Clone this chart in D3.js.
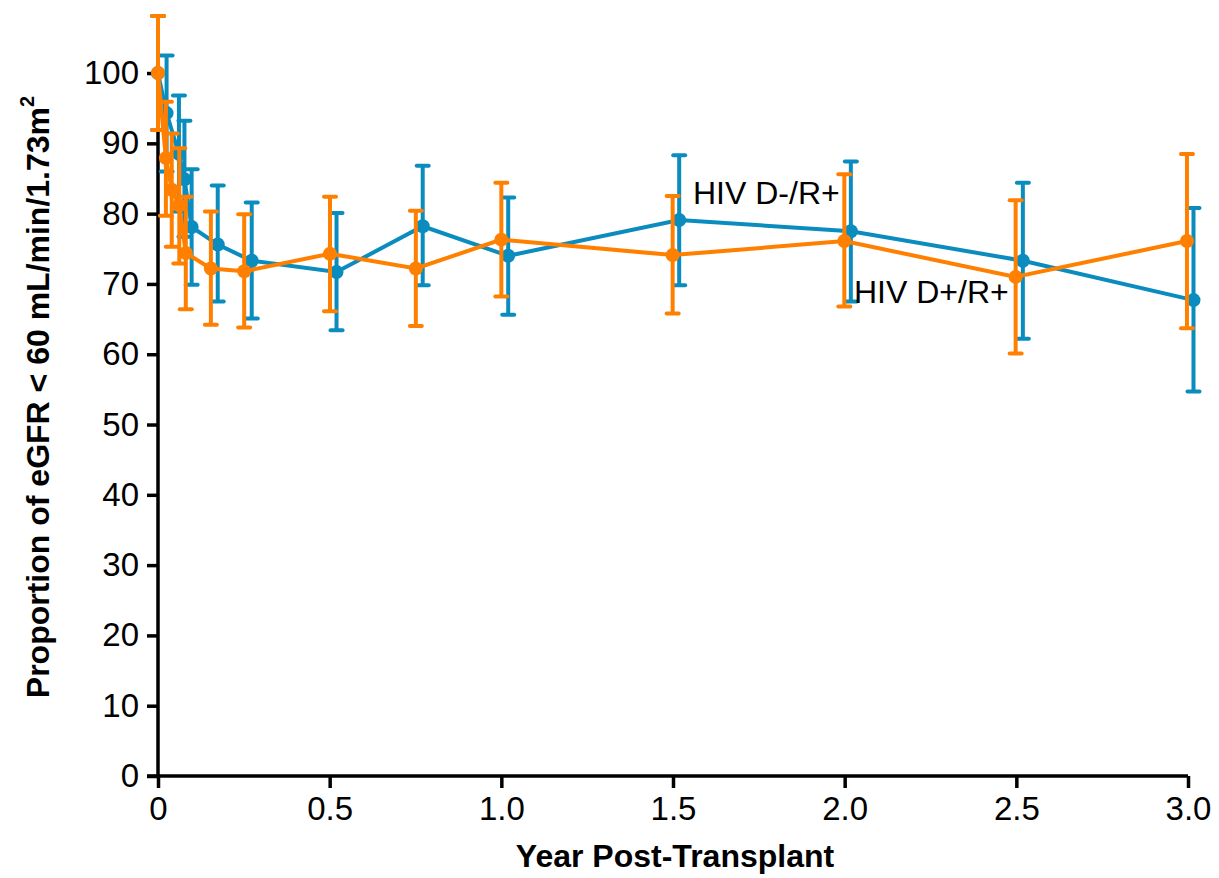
<!DOCTYPE html>
<html>
<head>
<meta charset="utf-8">
<script src="https://cdn.jsdelivr.net/npm/d3@7"></script>
<style>
  body { margin: 0; background: #fff; }
  svg text { font-family: Arial, "Liberation Sans", sans-serif; fill: #000; }
</style>
</head>
<body>
<div id="chart"></div>
<script>
// Data

var yTicks = [0, 10, 20, 30, 40, 50, 60, 70, 80, 90, 100];
var xTicks = [0, 0.5, 1.0, 1.5, 2.0, 2.5, 3.0];
var xTickLabels = ["0", "0.5", "1.0", "1.5", "2.0", "2.5", "3.0"];

// HIV D-/R+ (blue)
var negYears = [0, 0.025, 0.061, 0.077, 0.098, 0.174, 0.273, 0.52, 0.771, 1.02, 1.518, 2.018, 2.519, 3.016];
var negValue = [100, 94.3, 88.5, 84.9, 78.1, 75.6, 73.3, 71.7, 78.2, 74.0, 79.1, 77.5, 73.3, 67.7];
var negUpper = [108.1, 102.5, 96.8, 93.2, 86.3, 84.0, 81.6, 80.1, 86.8, 82.3, 88.3, 87.4, 84.4, 80.8];
var negLower = [91.9, 86.0, 80.3, 76.7, 69.9, 67.5, 65.1, 63.4, 69.8, 65.6, 69.8, 67.5, 62.2, 54.7];

// HIV D+/R+ (orange)
var posYears = [0, 0.023, 0.04, 0.062, 0.081, 0.154, 0.251, 0.501, 0.751, 1.0, 1.499, 1.999, 2.498, 2.997];
var posValue = [100, 87.9, 83.4, 81.2, 74.4, 72.2, 71.8, 74.3, 72.2, 76.3, 74.1, 76.1, 71.0, 76.1];
var posUpper = [108.1, 95.9, 91.4, 89.3, 82.4, 80.3, 79.9, 82.4, 80.4, 84.4, 82.5, 85.6, 81.9, 88.5];
var posLower = [91.9, 79.7, 75.3, 72.9, 66.4, 64.2, 63.8, 66.1, 64.0, 68.2, 65.8, 66.8, 60.1, 63.7];

// Setup

var width = 1219;
var height = 878;
var margin = {top: 14, right: 31, bottom: 102, left: 158};

var svg = d3.select("#chart").append("svg")
    .attr("width", width)
    .attr("height", height);

var x = d3.scaleLinear()
    .domain([0, 3])
    .range([margin.left, width - margin.right]);

var y = d3.scaleLinear()
    .domain([0, 108.4])
    .range([height - margin.bottom, margin.top]);

// Axes

var xAxis = svg.append("g")
    .attr("transform", "translate(0," + y(0) + ")")
    .call(d3.axisBottom(x)
        .tickValues(xTicks)
        .tickFormat(function(d, i) { return xTickLabels[i]; })
        .tickSize(12)
        .tickSizeOuter(0)
        .tickPadding(9));

var yAxis = svg.append("g")
    .attr("transform", "translate(" + x(0) + ",0)")
    .call(d3.axisLeft(y)
        .tickValues(yTicks)
        .tickSize(11)
        .tickSizeOuter(0)
        .tickPadding(8));

[xAxis, yAxis].forEach(function(a) {
    a.select(".domain").attr("stroke", "#000").attr("stroke-width", 3.5);
    a.selectAll(".tick line").attr("stroke", "#000").attr("stroke-width", 3.5);
    a.selectAll(".tick text").style("font-size", "33px").attr("fill", "#000");
});

// extend the y axis line up to the top of the plot
yAxis.select(".domain").attr("d", "M0," + margin.top + "V" + y(0));
xAxis.select(".domain").attr("d", "M" + (x(0) - 11) + ",0H" + x(3));

// Series

function drawSeries(years, values, upper, lower, color) {
    var g = svg.append("g");
    var pts = years.map(function(d, i) {
        return {x: d, v: values[i], hi: upper[i], lo: lower[i]};
    });

    var bars = g.selectAll(".bar").data(pts).enter().append("g");
    bars.append("line")
        .attr("x1", function(d) { return x(d.x); })
        .attr("x2", function(d) { return x(d.x); })
        .attr("y1", function(d) { return y(d.hi); })
        .attr("y2", function(d) { return y(d.lo); })
        .attr("stroke", color).attr("stroke-width", 4);
    ["hi", "lo"].forEach(function(k) {
        bars.append("line")
            .attr("x1", function(d) { return x(d.x) - 6; })
            .attr("x2", function(d) { return x(d.x) + 6; })
            .attr("y1", function(d) { return y(d[k]); })
            .attr("y2", function(d) { return y(d[k]); })
            .attr("stroke", color).attr("stroke-width", 4)
            .attr("stroke-linecap", "round");
    });

    var line = d3.line()
        .x(function(d) { return x(d.x); })
        .y(function(d) { return y(d.v); });

    g.append("path")
        .datum(pts)
        .attr("d", line)
        .attr("fill", "none")
        .attr("stroke", color)
        .attr("stroke-width", 4);

    g.selectAll("circle").data(pts).enter().append("circle")
        .attr("cx", function(d) { return x(d.x); })
        .attr("cy", function(d) { return y(d.v); })
        .attr("r", 7)
        .attr("fill", color);
}

drawSeries(negYears, negValue, negUpper, negLower, "#0a8cbf");
drawSeries(posYears, posValue, posUpper, posLower, "#ff8000");

// Series labels

svg.append("text")
    .attr("x", 693).attr("y", 204)
    .style("font-size", "32px")
    .text("HIV D-/R+");

svg.append("text")
    .attr("x", 854).attr("y", 303)
    .style("font-size", "32px")
    .text("HIV D+/R+");

// Axis titles

svg.append("text")
    .attr("x", 675)
    .attr("y", 867)
    .attr("text-anchor", "middle")
    .style("font-size", "32px")
    .style("font-weight", "bold")
    .text("Year Post-Transplant");

var yTitle = svg.append("text")
    .attr("transform", "translate(49," + 397 + ") rotate(-90)")
    .attr("text-anchor", "middle")
    .style("font-size", "32px")
    .style("font-weight", "bold");
yTitle.append("tspan").text("Proportion of eGFR < 60 mL/min/1.73m");
yTitle.append("tspan")
    .attr("dy", -15)
    .style("font-size", "20px")
    .text("2");

</script>
</body>
</html>
